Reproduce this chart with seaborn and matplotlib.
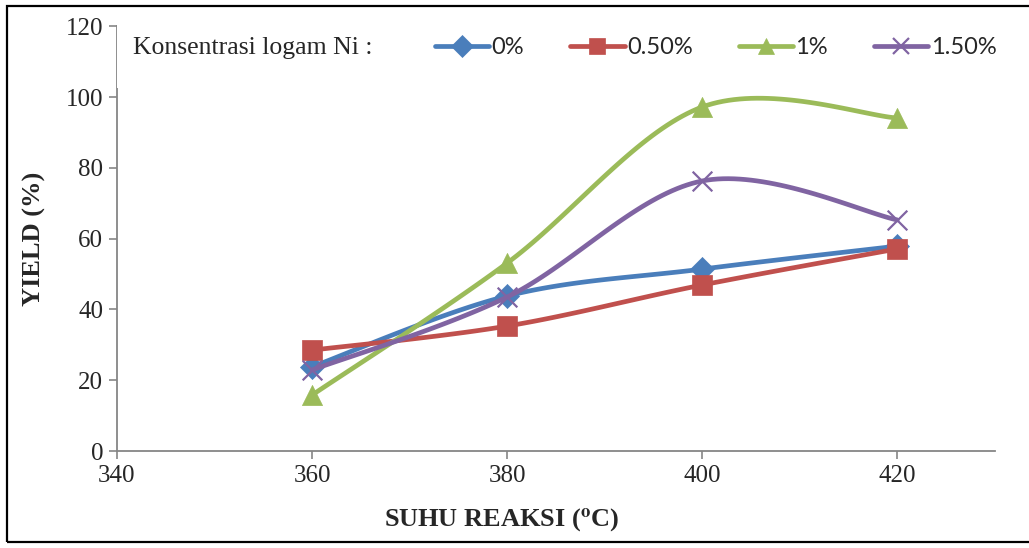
import numpy as np
import pandas as pd
import matplotlib
matplotlib.use("Agg")
import matplotlib.pyplot as plt
from matplotlib.lines import Line2D
from matplotlib.patches import Rectangle
import seaborn as sns

suhu = [360, 380, 400, 420]
yield_0 = [23.8, 43.8, 51.4, 57.9]
yield_050 = [28.5, 35.3, 46.9, 57.1]
yield_1 = [15.8, 53.1, 97.2, 94.1]
yield_150 = [22.9, 43.5, 76.3, 65.3]
labels = ["0%", "0.50%", "1%", "1.50%"]
colors = ["#4A7EBB", "#C0504D", "#9BBB59", "#8064A2"]
markers = ["D", "s", "^", "x"]


def smooth(x, y, n=40):
    # excel-like bezier smoothing through the points
    x = np.asarray(x, float)
    y = np.asarray(y, float)
    px = np.r_[x[0], x, x[-1]]
    py = np.r_[y[0], y, y[-1]]
    xs, ys = [], []
    t = np.linspace(0, 1, n)
    for i in range(1, len(x)):
        p0 = np.array([px[i], py[i]])
        p3 = np.array([px[i + 1], py[i + 1]])
        c1 = p0 + (np.array([px[i + 1], py[i + 1]]) - np.array([px[i - 1], py[i - 1]])) / 6
        c2 = p3 - (np.array([px[i + 2], py[i + 2]]) - np.array([px[i], py[i]])) / 6
        pts = ((1 - t)[:, None] ** 3 * p0 + 3 * ((1 - t) ** 2 * t)[:, None] * c1
               + 3 * ((1 - t) * t ** 2)[:, None] * c2 + (t ** 3)[:, None] * p3)
        xs.extend(pts[:, 0])
        ys.extend(pts[:, 1])
    return xs, ys


series = [yield_0, yield_050, yield_1, yield_150]

sns.set_style("white")
plt.rcParams["font.family"] = ["Liberation Serif", "DejaVu Serif"]
plt.rcParams["mathtext.fontset"] = "stix"

fig = plt.figure(figsize=(10.29, 5.48), dpi=100)
ax = fig.add_axes([0.1137, 0.177, 0.853, 0.775])

for i, vals in enumerate(series):
    sx, sy = smooth(suhu, vals)
    curve = pd.DataFrame({"x": sx, "y": sy})
    sns.lineplot(data=curve, x="x", y="y", sort=False, estimator=None,
                 color=colors[i], linewidth=3.4, ax=ax, zorder=2 + i)
    pts = pd.DataFrame({"x": suhu, "y": vals})
    if markers[i] == "x":
        sns.scatterplot(data=pts, x="x", y="y", marker="x", s=200, color=colors[i],
                        linewidth=1.6, ax=ax, zorder=3 + i)
    else:
        sns.scatterplot(data=pts, x="x", y="y", marker=markers[i], s=210 if markers[i] != "D" else 150,
                        color=colors[i], edgecolor=colors[i], linewidth=0.5, ax=ax, zorder=3 + i)

ax.set_xlim(340, 430)
ax.set_ylim(0, 120)
ax.set_xticks([340, 360, 380, 400, 420])
ax.set_yticks([0, 20, 40, 60, 80, 100, 120])
ax.tick_params(axis="both", direction="out", length=6, width=1.2, color="#868686",
               labelsize=18, pad=4, left=True, bottom=True)
for s in ["top", "right"]:
    ax.spines[s].set_visible(False)
for s in ["left", "bottom"]:
    ax.spines[s].set_color("#868686")
    ax.spines[s].set_linewidth(1.3)

ax.set_xlabel("SUHU REAKSI ($\\mathbf{^o}$C)", fontsize=19, fontweight="bold")
ax.xaxis.set_label_coords(0.438, -0.132)
ax.set_ylabel("YIELD (%)", fontsize=19, fontweight="bold", labelpad=14)

# legend area (covers the top of the value axis like the original)
fig.patches.append(Rectangle((0.1135, 0.84), 0.87, 0.13, transform=fig.transFigure,
                             facecolor="white", edgecolor="none", zorder=5))
fig.text(0.129, 0.913, "Konsentrasi logam Ni :", fontsize=18.5, va="center", zorder=6)
handles = [Line2D([], [], color=c, marker=m, linewidth=3.4,
                  markersize=11 if m != "x" else 12, markeredgewidth=1.6 if m == "x" else 0.5,
                  markeredgecolor=c) for c, m in zip(colors, markers)]
leg = fig.legend(handles, labels, ncol=4, loc="center left", bbox_to_anchor=(0.402, 0.913),
                 frameon=False, handlelength=2.3, handletextpad=0.1, columnspacing=1.95,
                 prop={"family": "Lato", "size": 17})
leg.set_zorder(7)

fig.patches.append(Rectangle((0.0065, 0.011), 1.2, 0.978, transform=fig.transFigure,
                             facecolor="none", edgecolor="black", linewidth=1.6))

fig.savefig("out.png", dpi=100)
